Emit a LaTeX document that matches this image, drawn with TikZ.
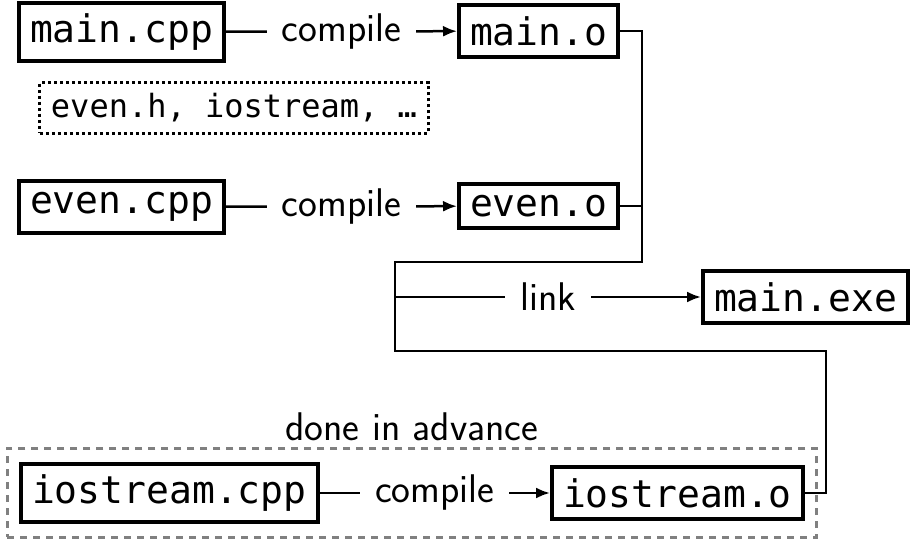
\documentclass[tikz,border=0pt]{standalone}
\usepackage{fontspec}
\setmonofont{DejaVu Sans Mono}
\usetikzlibrary{arrows.meta,fit}

\newcommand{\BusX}{642}
\newcommand{\BusLeft}{395}

\tikzset{
  file/.style={draw, line width=4pt, inner xsep=11pt, inner ysep=11pt,
    anchor=west, font=\fontsize{38}{41}\selectfont\ttfamily},
  wire/.style={line width=2.5pt},
  arr/.style={wire, -{Latex[length=14pt,width=11pt]}},
  tag/.style={fill=white, inner xsep=15pt, inner ysep=2pt,
    font=\fontsize{40}{43}\selectfont\sffamily},
}

\begin{document}
\begin{tikzpicture}[x=1pt,y=-1pt]
        \useasboundingbox (0,0) rectangle (912,545);

        \node[file] (maincpp) at (17,32) {main.cpp};
        \node[file] (maino) at (457,31) {main.o};
        \node[file] (evencpp) at (17,207) {even.cpp};
        \node[file] (eveno) at (457,206) {even.o};
        \node[file] (exe) at (701,297) {main.exe};
        \node[file] (iocpp) at (19,493) {iostream.cpp};
        \node[file] (ioo) at (550,493) {iostream.o};

        \node[draw, line width=3pt, dash pattern=on 3pt off 3pt, inner xsep=11pt, inner ysep=11pt,
          font=\fontsize{32}{35}\selectfont\ttfamily] (hdrs) at (234,108) {even.h, iostream, …};% headers

        \node[fit=(iocpp)(ioo), draw=gray, line width=3pt, dash pattern=on 7pt off 6pt,
          inner xsep=12pt, inner ysep=13pt,
          label={[font=\fontsize{40}{43}\selectfont\sffamily, inner sep=6pt]above:done in advance}] (adv) {};

        \draw[arr] (maincpp) -- node[tag] {compile} (maino);
        \draw[arr] (evencpp) -- node[tag] {compile} (eveno);
        \draw[arr] (iocpp) -- node[tag] {compile} (ioo);

        \coordinate (R) at (\BusX,262);
        \coordinate (L) at (\BusLeft,262);
        \coordinate (B) at (\BusLeft,351);
        \coordinate (I) at (826,351);

        \draw[wire] (maino.east) -| (R) -- (L) -- (B) -- (I) |- (ioo.east);% link bus
        \draw[wire] (eveno.east) -- (eveno.east -| R);
        \draw[arr] (L |- exe) -- node[tag] {link} (exe);
\end{tikzpicture}
\end{document}
